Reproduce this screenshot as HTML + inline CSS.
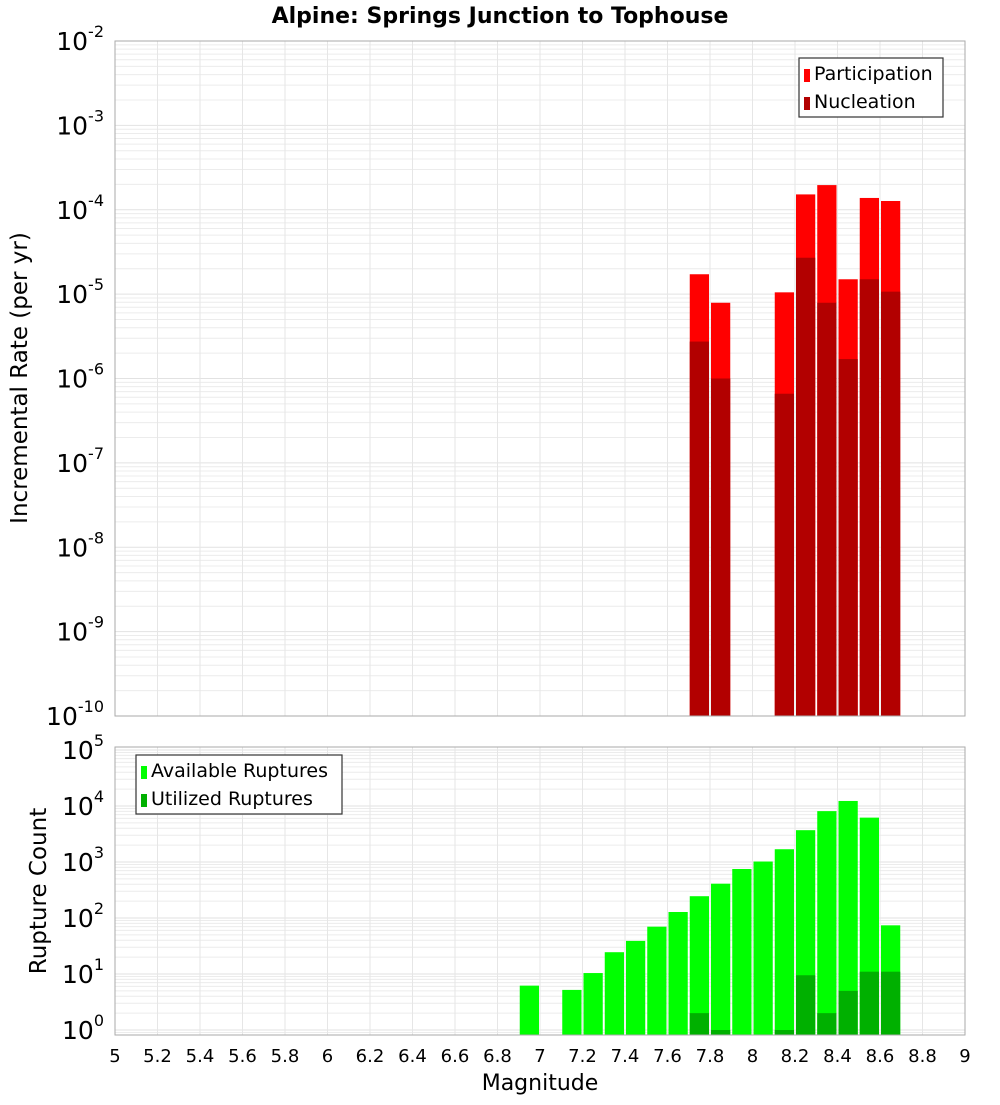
<!DOCTYPE html>
<html><head><meta charset="utf-8"><style>
body{margin:0;background:#fff;font-family:"Liberation Sans","DejaVu Sans",sans-serif}
svg text{font-family:"DejaVu Sans","Liberation Sans",sans-serif}
</style></head><body>
<svg id="chart" width="1000" height="1100" xmlns="http://www.w3.org/2000/svg">
<text x="500" y="23" text-anchor="middle" font-size="22" font-weight="bold">Alpine: Springs Junction to Tophouse</text>
<text transform="translate(27,378) rotate(-90)" text-anchor="middle" font-size="23">Incremental Rate (per yr)</text>
<text transform="translate(46,891) rotate(-90)" text-anchor="middle" font-size="23">Rupture Count</text>
<text x="540" y="1090" text-anchor="middle" font-size="22">Magnitude</text>
<g id="top"></g>
<g id="bot"></g>
</svg>
<script>
const mags = [6.95,7.15,7.25,7.35,7.45,7.55,7.65,7.75,7.85,7.95,8.05,8.15,8.25,8.35,8.45,8.55,8.65];
const available = [6.2,5.2,10.4,24.5,39,70,128,245,410,750,1020,1690,3700,8100,12300,6200,74];
const utilized = [0,0,0,0,0,0,0,2,1,0,0,1,9.5,2,5,11,11];
const rateMags = [7.75,7.85,8.15,8.25,8.35,8.45,8.55,8.65];
const participation = [1.72e-5,7.9e-6,1.05e-5,1.52e-4,1.96e-4,1.5e-5,1.38e-4,1.27e-4];
const nucleation = [2.74e-6,1.0e-6,6.6e-7,2.7e-5,7.9e-6,1.7e-6,1.5e-5,1.07e-5];
const xTicks = [5,5.2,5.4,5.6,5.8,6,6.2,6.4,6.6,6.8,7,7.2,7.4,7.6,7.8,8,8.2,8.4,8.6,8.8,9];
const topExps = [-2,-3,-4,-5,-6,-7,-8,-9,-10];
const botExps = [0,1,2,3,4,5];

const NS="http://www.w3.org/2000/svg";
const X0=115,X1=965;
const xs=m=>X0+(m-5)/4*(X1-X0);
function mk(parent,tag,attrs){const e=document.createElementNS(NS,tag);for(const k in attrs)e.setAttribute(k,attrs[k]);parent.appendChild(e);return e;}

function panel(g,top,bottom,yOf,expMin,expMax,exps){
  // grid
  for(let e=Math.floor(expMin);e<=Math.ceil(expMax);e++){
    for(let k=1;k<10;k++){
      const v=Math.log10(k)+e; if(v<expMin||v>expMax) continue;
      const y=yOf(Math.pow(10,v));
      const l=mk(g,'line',{x1:X0,x2:X1,y1:y,y2:y,stroke:k==1?'#e2e2e2':'#ececec','stroke-width':1});
      
      
    }
  }
  xTicks.forEach(t=>{
    const l=mk(g,'line',{x1:xs(t),x2:xs(t),y1:top,y2:bottom,stroke:'#e6e6e6','stroke-width':1});
    
    
  });
  exps.forEach(e=>{
    const y=yOf(Math.pow(10,e));
    const t=mk(g,'text',{x:104,y:y+9,'text-anchor':'end','font-size':25});
    
    
    const a=document.createElementNS(NS,'tspan');a.textContent='10';t.appendChild(a);
    const b=document.createElementNS(NS,'tspan');b.setAttribute('dy','-13');b.setAttribute('font-size','16');b.textContent=String(e);t.appendChild(b);
  });
}
function bar(g,m,v,yOf,bottom,fill,name){
  if(!v) return;
  const x=xs(m-0.05)+1,w=xs(m+0.05)-xs(m-0.05)-2,y=yOf(v);
  const r=mk(g,'rect',{x:x,y:y,width:w,height:bottom-y,fill:fill});
  
  
}
// top panel
const tg=document.getElementById('top');
const T0=41,T1=716;
const yT=v=>T0+(-2-Math.log10(v))*(T1-T0)/8;
panel(tg,T0,T1,yT,-10,-2,topExps);
rateMags.forEach((m,i)=>bar(tg,m,participation[i],yT,T1,'#ff0000','participation-bar'));
rateMags.forEach((m,i)=>bar(tg,m,nucleation[i],yT,T1,'#b20000','nucleation-bar'));
mk(tg,'rect',{x:X0,y:T0,width:X1-X0,height:T1-T0,fill:'none',stroke:'#aaa'});
// bottom panel
const bg=document.getElementById('bot');
const B0=747,B1=1035;
const yB=v=>1030-Math.log10(v)*56;
panel(bg,B0,B1,yB,-0.09,5.05,botExps);
mags.forEach((m,i)=>bar(bg,m,available[i],yB,B1,'#00ff00','available-bar'));
mags.forEach((m,i)=>bar(bg,m,utilized[i],yB,B1,'#00b000','utilized-bar'));
mk(bg,'rect',{x:X0,y:B0,width:X1-X0,height:B1-B0,fill:'none',stroke:'#aaa'});
xTicks.forEach(t=>{
  const tx=mk(bg,'text',{x:xs(t),y:1062,'text-anchor':'middle','font-size':18});
  
  
  tx.textContent=String(t);
});
// legends
function legend(g,x,y,w,items,name){
  const lg=mk(g,'g',{});
  
  
  mk(lg,'rect',{x:x,y:y,width:w,height:59,fill:'#fff',stroke:'#333','stroke-width':1.2});
  items.forEach((it,i)=>{
    mk(lg,'rect',{x:x+5,y:y+11+i*28,width:6,height:13,fill:it[1]});
    const t=mk(lg,'text',{x:x+15,y:y+22+i*28,'font-size':19});
    
    
    t.textContent=it[0];
  });
}
legend(tg,799,58,144,[['Participation','#ff0000'],['Nucleation','#b20000']],'rate-legend');
legend(bg,136,755,206,[['Available Ruptures','#00ff00'],['Utilized Ruptures','#00b000']],'count-legend');
</script>
</body></html>
